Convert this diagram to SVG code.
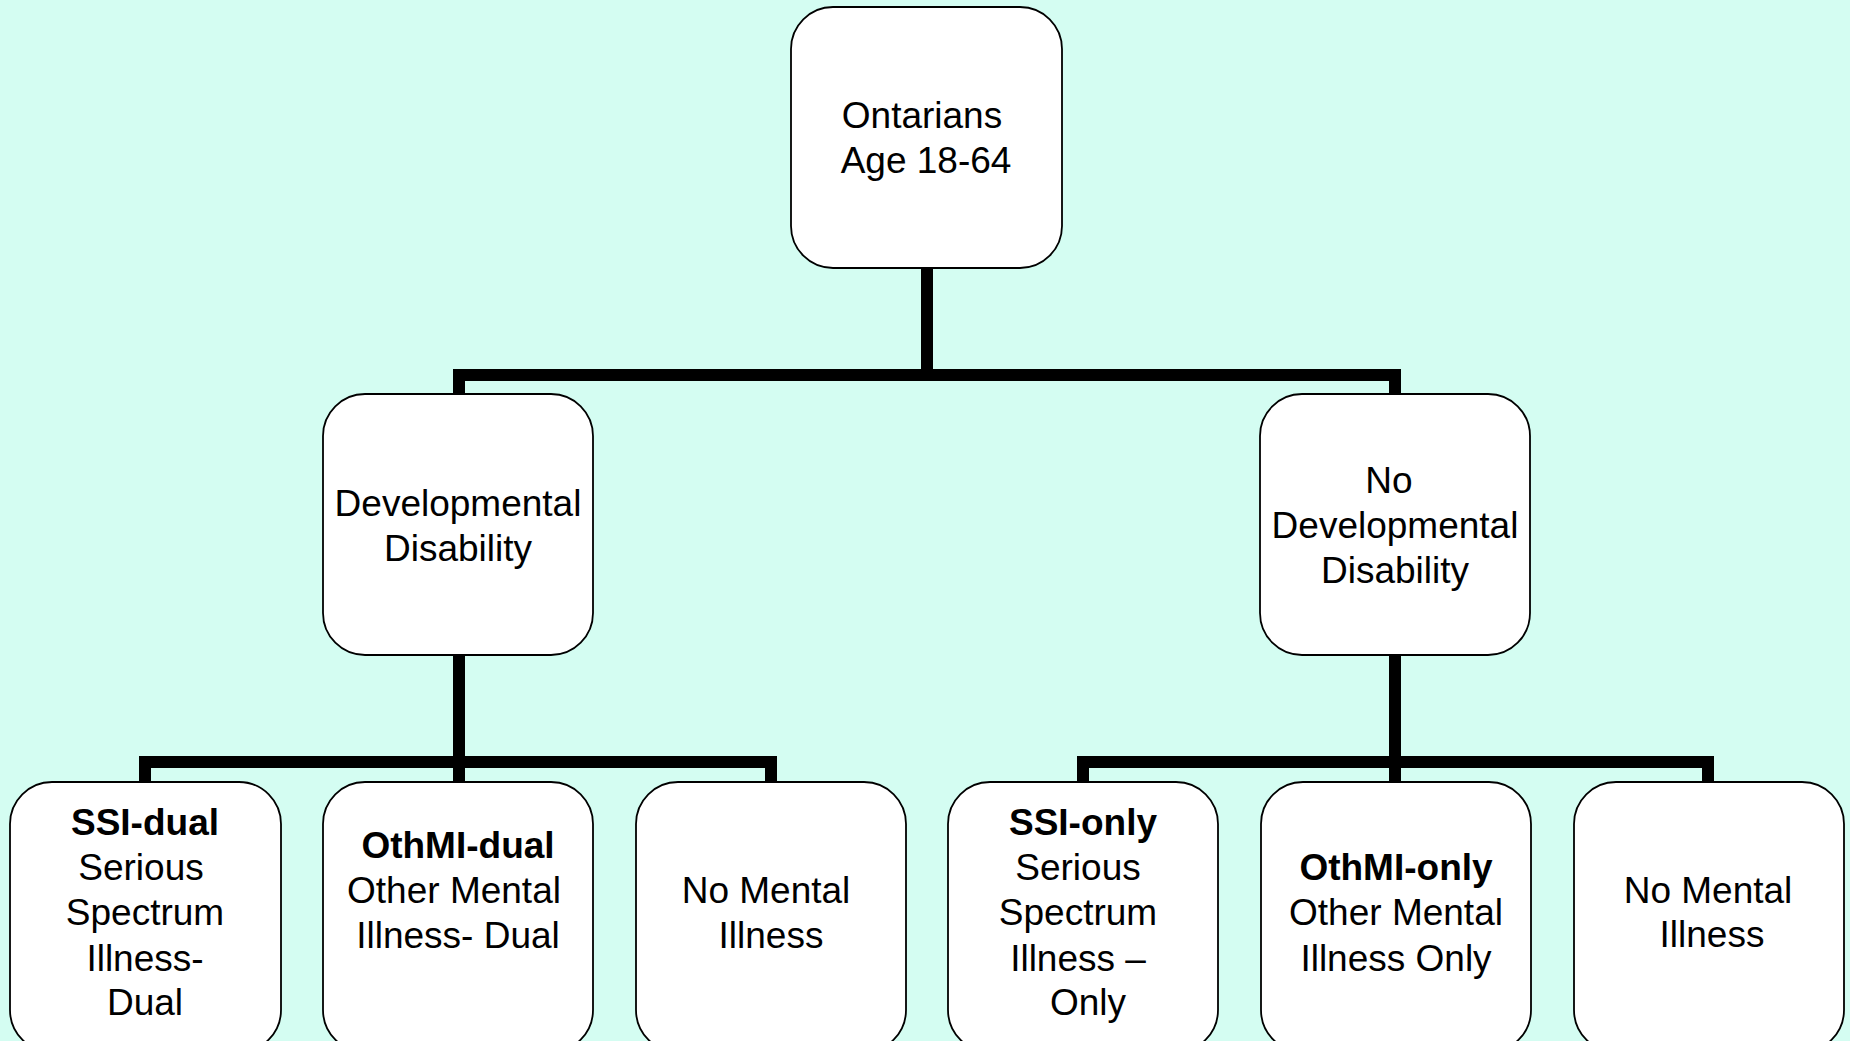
<svg xmlns="http://www.w3.org/2000/svg" width="1850" height="1041" viewBox="0 0 1850 1041">
<style>
.box{fill:#ffffff;stroke:#000000;stroke-width:1.8}
.t{font-family:"Liberation Sans",Arial,sans-serif;font-size:37px;fill:#000000;text-anchor:middle}
.b{font-weight:bold}
.c{fill:none;stroke:#000000;stroke-width:12;stroke-linejoin:miter;stroke-linecap:butt}
</style>
<rect x="0" y="0" width="1850" height="1041" fill="#D4FDF2"/>
<g id="connectors">
<path class="c" d="M927,268 V375"/>
<path class="c" d="M459,394 V375 H1395 V394"/>
<path class="c" d="M459,655 V782"/>
<path class="c" d="M145,782 V762 H771 V782"/>
<path class="c" d="M1395,655 V782"/>
<path class="c" d="M1083,782 V762 H1708 V782"/>
</g>
<g id="node-ontarians">
<rect class="box" x="791" y="7" width="271" height="261" rx="42" ry="42"/>
<text class="t" x="922" y="128">Ontarians</text>
<text class="t" x="926" y="173">Age 18-64</text>
</g>
<g id="node-dd">
<rect class="box" x="323" y="394" width="270" height="261" rx="42" ry="42"/>
<text class="t" x="458" y="516">Developmental</text>
<text class="t" x="458" y="561">Disability</text>
</g>
<g id="node-nodd">
<rect class="box" x="1260" y="394" width="270" height="261" rx="42" ry="42"/>
<text class="t" x="1389" y="493">No</text>
<text class="t" x="1395" y="538">Developmental</text>
<text class="t" x="1395" y="583">Disability</text>
</g>
<g id="node-ssi-dual">
<rect class="box" x="10" y="782" width="271" height="270" rx="42" ry="42"/>
<text class="t b" x="145" y="835">SSI-dual</text>
<text class="t" x="141" y="880">Serious</text>
<text class="t" x="145" y="925">Spectrum</text>
<text class="t" x="145" y="971">Illness-</text>
<text class="t" x="145" y="1015">Dual</text>
</g>
<g id="node-othmi-dual">
<rect class="box" x="323" y="782" width="270" height="270" rx="42" ry="42"/>
<text class="t b" x="458" y="858">OthMI-dual</text>
<text class="t" x="454" y="903">Other Mental</text>
<text class="t" x="458" y="948">Illness- Dual</text>
</g>
<g id="node-nomi-dd">
<rect class="box" x="636" y="782" width="270" height="270" rx="42" ry="42"/>
<text class="t" x="766" y="903">No Mental</text>
<text class="t" x="771" y="948">Illness</text>
</g>
<g id="node-ssi-only">
<rect class="box" x="948" y="782" width="270" height="270" rx="42" ry="42"/>
<text class="t b" x="1083" y="835">SSI-only</text>
<text class="t" x="1078" y="880">Serious</text>
<text class="t" x="1078" y="925">Spectrum</text>
<text class="t" x="1078" y="971">Illness –</text>
<text class="t" x="1088" y="1015">Only</text>
</g>
<g id="node-othmi-only">
<rect class="box" x="1261" y="782" width="270" height="270" rx="42" ry="42"/>
<text class="t b" x="1396" y="880">OthMI-only</text>
<text class="t" x="1396" y="925">Other Mental</text>
<text class="t" x="1396" y="971">Illness Only</text>
</g>
<g id="node-nomi-nodd">
<rect class="box" x="1574" y="782" width="270" height="270" rx="42" ry="42"/>
<text class="t" x="1708" y="903">No Mental</text>
<text class="t" x="1712" y="947">Illness</text>
</g>
</svg>
